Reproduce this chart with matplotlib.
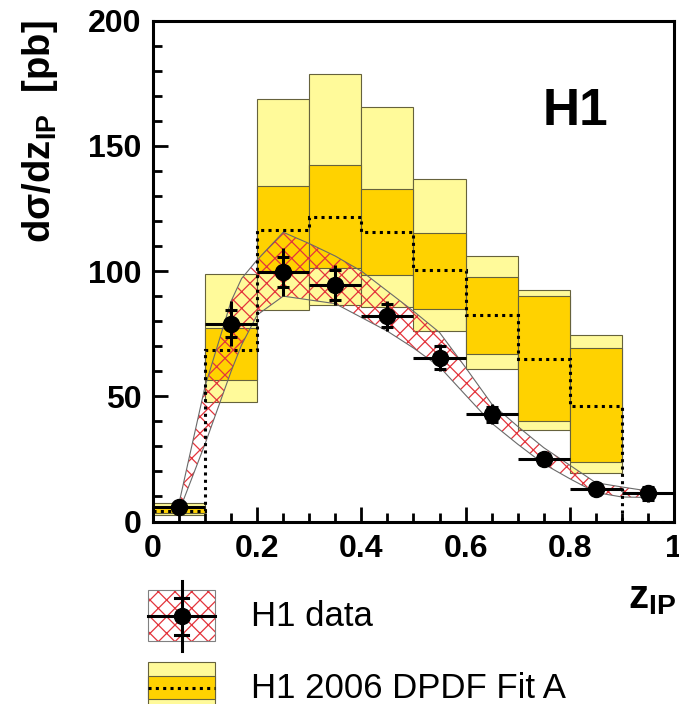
import matplotlib

matplotlib.use("Agg")
from matplotlib import pyplot as plt
from matplotlib.patches import Rectangle
from matplotlib.ticker import MultipleLocator

plt.rcParams["font.family"] = ["Liberation Sans", "DejaVu Sans"]
plt.rcParams["mathtext.fontset"] = "custom"
plt.rcParams["mathtext.rm"] = "Liberation Sans"
plt.rcParams["mathtext.bf"] = "Liberation Sans:bold"
plt.rcParams["hatch.linewidth"] = 0.9

# z_IP bins and H1 2006 DPDF Fit A prediction (central, inner and outer bands)
bin_edges = [0.0, 0.1, 0.2, 0.3, 0.4, 0.5, 0.6, 0.7, 0.8, 0.9, 1.0]
fit_central = [4.3, 68.3, 116.6, 121.7, 115.5, 100.3, 82.3, 65.0, 46.3, 0.0]
fit_inner_lo = [3.4, 56.7, 99.9, 101.3, 98.6, 85.0, 67.0, 40.3, 23.9, 0.0]
fit_inner_hi = [5.8, 77.4, 133.9, 142.3, 132.6, 115.3, 97.5, 89.9, 69.3, 0.0]
fit_outer_lo = [2.6, 47.6, 84.6, 86.6, 85.8, 76.0, 60.9, 36.6, 19.5, 0.0]
fit_outer_hi = [7.3, 99.0, 168.6, 178.6, 165.5, 136.6, 106.2, 92.6, 74.6, 0.0]

# hatched band around the data
band_z = [0.05, 0.1, 0.15, 0.17, 0.2, 0.25, 0.3, 0.35, 0.4, 0.45,
          0.5, 0.55, 0.6, 0.65, 0.7, 0.75, 0.8, 0.85, 0.9, 0.95]
band_hi = [7.3, 54, 88, 97, 104.5, 115.5, 111, 106, 100, 92,
           84, 75.5, 61.5, 47, 38, 29.5, 22.5, 15.5, 13.8, 12.2]
band_lo = [4.0, 31, 60, 70.5, 82.5, 90, 88.5, 87, 81.5, 76,
           69.3, 61.8, 50.5, 39.3, 30.9, 23, 17.1, 11.6, 9.8, 9.6]

# H1 data
data_z = [0.05, 0.15, 0.25, 0.35, 0.45, 0.55, 0.65, 0.75, 0.85, 0.95]
data_y = [5.7, 79.0, 99.6, 94.6, 82.2, 65.5, 42.8, 25.0, 13.1, 11.2]
data_stat = [1.0, 5.5, 6.0, 6.0, 4.5, 4.5, 3.0, 2.0, 1.5, 2.5]
data_tot = [1.5, 9.0, 9.5, 8.0, 6.0, 5.5, 4.0, 2.5, 2.0, 3.5]

LIGHT = "#FFFA9A"
DARK = "#FFD200"
EDGE = "#66623C"
HATCH = "#E3343C"
DOTS = (0, (1, 1.4))

fig = plt.figure(figsize=(6.79, 7.04), dpi=100)
ax = fig.add_axes([0.2253, 0.2592, 0.7673, 0.7114], zorder=1)

lefts = bin_edges[:-1]
ax.bar(lefts, [h - l for h, l in zip(fit_outer_hi, fit_outer_lo)], width=0.1,
       bottom=fit_outer_lo, align="edge", color=LIGHT, edgecolor=EDGE,
       linewidth=0.8, zorder=1)
ax.bar(lefts, [h - l for h, l in zip(fit_inner_hi, fit_inner_lo)], width=0.1,
       bottom=fit_inner_lo, align="edge", color=DARK, edgecolor=EDGE,
       linewidth=0.8, zorder=2)

ax.fill_between(band_z, band_lo, band_hi, facecolor="none", edgecolor=HATCH,
                hatch="xx", linewidth=0, zorder=3)
ax.fill_between(band_z, band_lo, band_hi, facecolor="none", edgecolor="#6A6A6A",
                linewidth=0.8, zorder=3)

ax.stairs(fit_central, bin_edges, baseline=None, color="black", linewidth=2.2,
          linestyle=DOTS, zorder=4)

ax.errorbar(data_z, data_y, xerr=0.05, yerr=data_tot, fmt="o", color="black",
            markersize=11.5, elinewidth=2.2, capsize=0, zorder=5)
stat_hi = [y + s for y, s in zip(data_y, data_stat)]
stat_lo = [y - s for y, s in zip(data_y, data_stat)]
ax.plot(data_z, stat_hi, "_", color="black", markersize=9, mew=2.2, zorder=5)
ax.plot(data_z, stat_lo, "_", color="black", markersize=9, mew=2.2, zorder=5)

ax.set_xlim(0, 1)
ax.set_ylim(0, 200)
ax.set_xticks([0, 0.2, 0.4, 0.6, 0.8, 1.0])
ax.set_xticklabels(["0", "0.2", "0.4", "0.6", "0.8", "1"])
ax.xaxis.set_minor_locator(MultipleLocator(0.05))
ax.yaxis.set_major_locator(MultipleLocator(50))
ax.yaxis.set_minor_locator(MultipleLocator(10))
ax.tick_params(which="both", direction="in", top=False, right=False, width=2.0,
               labelsize=23)
ax.tick_params(which="major", length=11)
ax.tick_params(which="minor", length=6.5)
ax.tick_params(axis="x", pad=9)
ax.tick_params(axis="y", pad=8)
for label in ax.get_xticklabels() + ax.get_yticklabels():
    label.set_fontweight("bold")
for spine in ax.spines.values():
    spine.set_linewidth(2.2)

ax.text(0.81, 0.818, "H1", transform=ax.transAxes, ha="center", va="center",
        fontsize=37, fontweight="bold")

fig.text(40 / 679, 1 - 20 / 704, r"dσ/dz$_{\mathbf{IP}}$  [pb]", rotation=90,
         ha="center", va="top", fontsize=27.5, fontweight="bold")
fig.text(628 / 679, 1 - 608 / 704, r"z$_{\mathbf{IP}}$", ha="left",
         va="baseline", fontsize=29, fontweight="bold")

# legend drawn in pixel coordinates below the axes
leg = fig.add_axes([0, 0, 1, 1], zorder=0)
leg.set_xlim(0, 679)
leg.set_ylim(704, 0)
leg.axis("off")

leg.add_patch(Rectangle((148, 590), 67, 51, facecolor="white", edgecolor=HATCH,
                        hatch="xx", linewidth=0))
leg.add_patch(Rectangle((148, 590), 67, 51, facecolor="none", edgecolor="#808080",
                        linewidth=0.8))
leg.plot([181.5, 181.5], [581, 651], color="black", linewidth=2.2)
leg.plot([148, 215], [616, 616], color="black", linewidth=2.2)
leg.plot([175, 188], [598, 598], color="black", linewidth=2.2)
leg.plot([175, 188], [635, 635], color="black", linewidth=2.2)
leg.plot([181.5], [616], "o", color="black", markersize=11.5)
leg.text(251, 616, "H1 data", va="center", ha="left", fontsize=25)

leg.add_patch(Rectangle((148, 661.5), 67, 60, facecolor=LIGHT, edgecolor=EDGE,
                        linewidth=0.8))
leg.add_patch(Rectangle((148, 675.5), 67, 23.5, facecolor=DARK, edgecolor=EDGE,
                        linewidth=0.8))
leg.plot([148, 215], [687.8, 687.8], color="black", linewidth=2.2,
         linestyle=DOTS)
leg.text(251, 688, "H1 2006 DPDF Fit A", va="center", ha="left", fontsize=25)

fig.savefig("out.png", dpi=100)
